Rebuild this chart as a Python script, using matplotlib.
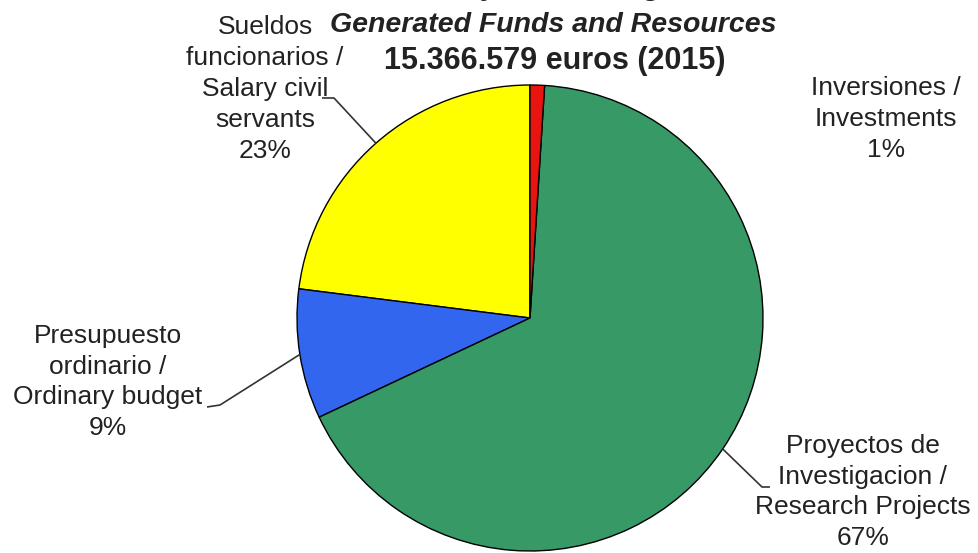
import numpy as np
import matplotlib.pyplot as plt

# Data
labels = ['Sueldos\nfuncionarios /\nSalary civil\nservants',
          'Presupuesto\nordinario /\nOrdinary budget',
          'Proyectos de\nInvestigacion /\nResearch Projects',
          'Inversiones /\nInvestments']
shares = [23, 9, 67, 1]
colors = ['#FFFF00', '#3366EE', '#379966', '#E8140F']

title_es = 'Dotaciones y Recursos generados'
title_en = 'Generated Funds and Resources'
title_total = '15.366.579 euros (2015)'

plt.rcParams['font.family'] = ['Liberation Sans', 'DejaVu Sans']

W, H = 979, 553
fig = plt.figure(figsize=(W / 100, H / 100), dpi=100)
ax = fig.add_axes([0, 0, 1, 1])

# pie in pixel-like coords (y measured from the top of the image)
cx, cy, r = 530, 318, 233
wedges, _ = ax.pie(shares, colors=colors, startangle=90, counterclock=True,
                   center=(cx, H - cy), radius=r, frame=True,
                   wedgeprops=dict(edgecolor='black', linewidth=1))
ax.set_xlim(0, W)
ax.set_ylim(0, H)
ax.set_aspect('equal')
ax.axis('off')

def mid_edge(w):
    a = np.deg2rad((w.theta1 + w.theta2) / 2)
    return cx + r * np.cos(a), H - cy + r * np.sin(a)

fs = 19
txt = dict(ha='center', va='center', fontsize=fs, color='#222222', linespacing=1.36)

# label blocks: (x, y from top)
label_pos = [(265, 89), (108, 382), (863, 492), (886, 119)]
for lab, s, (x, y) in zip(labels, shares, label_pos):
    ax.text(x, H - y, f'{lab}\n{s}%', **txt)

# leader lines: text end -> elbow -> wedge edge
leaders = {0: [(322, 98), (334, 98)],
           1: [(207, 407), (220, 405)],
           2: [(770, 487), (762, 487)]}
for i, pts in leaders.items():
    ex, ey = mid_edge(wedges[i])
    xs = [p[0] for p in pts] + [ex]
    ys = [H - p[1] for p in pts] + [ey]
    ax.plot(xs, ys, color='#333333', lw=1.2, solid_capstyle='butt')

# titles
ax.text(555, H + 12, title_es, ha='center', va='center', fontsize=20.5,
        fontweight='bold', fontstyle='italic', color='#222222')
ax.text(553, H - 25, title_en, ha='center', va='center', fontsize=20.5,
        fontweight='bold', fontstyle='italic', color='#222222')
ax.text(555, H - 61, title_total, ha='center', va='center', fontsize=22,
        fontweight='bold', color='#222222')

fig.savefig('out.png', dpi=100, facecolor='white')
